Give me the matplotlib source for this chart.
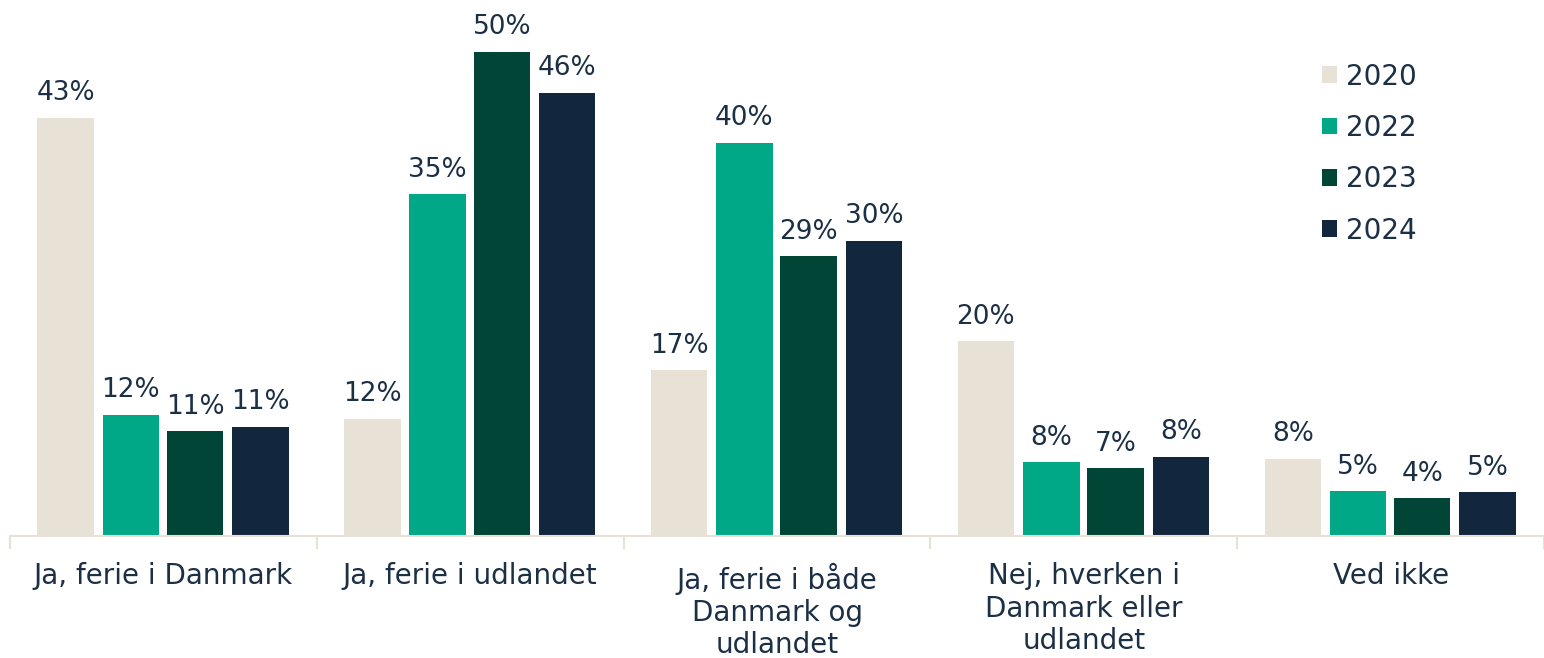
import numpy as np
import matplotlib.pyplot as plt

categories = ["Ja, ferie i Danmark", "Ja, ferie i udlandet",
              "Ja, ferie i både\nDanmark og\nudlandet",
              "Nej, hverken i\nDanmark eller\nudlandet", "Ved ikke"]
years = ["2020", "2022", "2023", "2024"]
# bar heights and the printed labels
v2020 = [43.2, 12.1, 17.1, 20.1, 8.0]
v2022 = [12.5, 35.3, 40.6, 7.6, 4.6]
v2023 = [10.8, 50.0, 28.9, 7.0, 3.9]
v2024 = [11.3, 45.8, 30.5, 8.2, 4.5]
l2020 = [43, 12, 17, 20, 8]
l2022 = [12, 35, 40, 8, 5]
l2023 = [11, 50, 29, 7, 4]
l2024 = [11, 46, 30, 8, 5]
colors = ["#E8E1D6", "#00A887", "#004536", "#12263D"]
text_col = "#1B2F45"

plt.rcParams['font.family'] = ['DejaVu Sans']

fig = plt.figure(figsize=(15.44, 6.58), dpi=100)
ax = fig.add_axes([10 / 1544, 122 / 658, 1534 / 1544, 536 / 658])

x = np.arange(len(categories))
unit = 310.4
offsets = [-0.319, -0.106, 0.103, 0.316]
width = 0.184
values = [v2020, v2022, v2023, v2024]
labels = [l2020, l2022, l2023, l2024]
for i in range(4):
    bars = ax.bar(x + offsets[i], values[i], width, color=colors[i], label=years[i])
    for b, lab in zip(bars, labels[i]):
        ax.text(b.get_x() + b.get_width() / 2, b.get_height() + 1.2, f"{lab}%",
                ha='center', va='bottom', fontsize=19, color=text_col)

ax.set_xlim(-0.5, -0.5 + 1534 / unit)
ax.set_ylim(0, 536 / 9.68)
ax.set_yticks([])
for s in ['top', 'right', 'left']:
    ax.spines[s].set_visible(False)
ax.spines['bottom'].set_color("#E8E1D6")
ax.spines['bottom'].set_linewidth(1.5)
ax.set_xticks(x)
ax.set_xticklabels(categories, fontsize=20, color=text_col, linespacing=1.2)
ax.tick_params(axis='x', which='major', length=0, pad=19)
ax.set_xticks(np.arange(-0.5, 5, 1), minor=True)
ax.tick_params(axis='x', which='minor', length=9, width=1.5, color="#E8E1D6")

leg = ax.legend(loc='upper left', bbox_to_anchor=(1287 / 1534, 0.93), frameon=False,
                fontsize=20, handlelength=0.55, handleheight=0.55, handletextpad=0.3,
                labelspacing=0.84, labelcolor=text_col)

fig.savefig("out.png", dpi=100)
